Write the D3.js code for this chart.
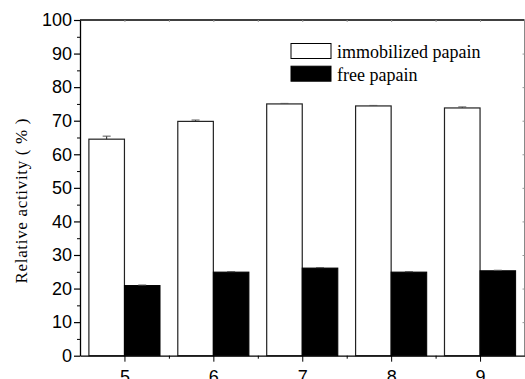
<!DOCTYPE html>
<html>
<head>
<meta charset="utf-8">
<script src="https://cdn.jsdelivr.net/npm/d3@7"></script>
<style>
  html, body { margin: 0; padding: 0; background: #fff; }
  svg { display: block; }
</style>
</head>
<body>
<svg id="chart" width="525" height="379"></svg>
<script>
// pH values on the x axis
const categories = [5, 6, 7, 8, 9];
// Relative activity (%) with error estimates
const immobilized = [64.5, 69.8, 75.0, 74.4, 73.8];
const immobilizedErr = [0.9, 0.4, 0.15, 0.15, 0.3];
const free = [20.9, 24.9, 26.1, 24.9, 25.3];
const freeErr = [0.15, 0.15, 0.15, 0.15, 0.15];
const yTicks = [0, 10, 20, 30, 40, 50, 60, 70, 80, 90, 100];
const seriesNames = ["immobilized papain", "free papain"];

const SERIF = "'Liberation Serif', 'Times New Roman', Tinos, serif";
const SANS = "'Liberation Sans', Arial, Arimo, sans-serif";

(function draw() {
  const svg = d3.select("#chart");
  const mLeft = 80, mRight = 524.5, mTop = 20, mBottom = 355.7;

  const x = d3.scaleLinear().domain([4.5, 9.5]).range([mLeft, mRight]);
  const y = d3.scaleLinear().domain([0, 100]).range([mBottom, mTop]);
  const bw = x(5.4) - x(5);

  // Bars
  const g = svg.append("g");
  g.selectAll("rect.imm").data(categories).enter().append("rect")
    .attr("x", (d) => x(d) - bw)
    .attr("y", (d, i) => y(immobilized[i]))
    .attr("width", bw)
    .attr("height", (d, i) => y(0) - y(immobilized[i]))
    .attr("fill", "#fff").attr("stroke", "#222").attr("stroke-width", 1.2);

  g.selectAll("rect.free").data(categories).enter().append("rect")
    .attr("x", (d) => x(d))
    .attr("y", (d, i) => y(free[i]))
    .attr("width", bw)
    .attr("height", (d, i) => y(0) - y(free[i]))
    .attr("fill", "#000").attr("stroke", "#000").attr("stroke-width", 1);

  // Error bars (upper whiskers)
  function whiskers(vals, errs, dx) {
    categories.forEach((c, i) => {
      const cx = x(c) + dx;
      g.append("line").attr("x1", cx).attr("x2", cx)
        .attr("y1", y(vals[i])).attr("y2", y(vals[i] + errs[i]))
        .attr("stroke", "#222").attr("stroke-width", 1);
      g.append("line").attr("x1", cx - 4).attr("x2", cx + 4)
        .attr("y1", y(vals[i] + errs[i])).attr("y2", y(vals[i] + errs[i]))
        .attr("stroke", "#555").attr("stroke-width", 1);
    });
  }
  whiskers(immobilized, immobilizedErr, -bw / 2);
  whiskers(free, freeErr, bw / 2);

  // Frame
  svg.append("line").attr("x1", mLeft).attr("x2", mRight).attr("y1", mTop).attr("y2", mTop)
    .attr("stroke", "#000").attr("stroke-width", 1.3);
  svg.append("line").attr("x1", mRight).attr("x2", mRight).attr("y1", mTop).attr("y2", mBottom)
    .attr("stroke", "#888").attr("stroke-width", 1);

  // Left axis
  const yMinor = d3.range(5, 100, 10);
  const yAxis = d3.axisLeft(y).tickValues(yTicks).tickSize(6).tickSizeOuter(0).tickPadding(2);
  const ya = svg.append("g").attr("transform", `translate(${mLeft},0)`).call(yAxis);
  ya.attr("font-family", null).attr("font-size", null);
  ya.select(".domain").attr("stroke-width", 1.3);
  ya.selectAll(".tick line").attr("stroke-width", 1.2);
  ya.selectAll(".tick text").style("font-family", SANS)
    .style("font-size", "18px").attr("fill", "#000");
  svg.append("g").attr("transform", `translate(${mLeft},0)`)
    .call(d3.axisLeft(y).tickValues(yMinor).tickSize(3).tickFormat(""))
    .call((s) => s.select(".domain").remove());

  // Bottom axis
  const xa = svg.append("g").attr("transform", `translate(0,${mBottom})`)
    .call(d3.axisBottom(x).tickValues(categories).tickSize(6).tickSizeOuter(0).tickPadding(9).tickFormat(d3.format("d")));
  xa.attr("font-family", null).attr("font-size", null);
  xa.select(".domain").attr("stroke-width", 1.3);
  xa.selectAll(".tick text").style("font-family", SANS)
    .style("font-size", "18px").attr("fill", "#000");
  svg.append("g").attr("transform", `translate(0,${mBottom})`)
    .call(d3.axisBottom(x).tickValues([5.5, 6.5, 7.5, 8.5]).tickSize(3).tickFormat(""))
    .call((s) => s.select(".domain").remove());

  // Small inward ticks on the top and right borders
  svg.append("g").attr("transform", `translate(0,${mTop})`)
    .call(d3.axisBottom(x).tickValues([5, 5.5, 6, 6.5, 7, 7.5, 8, 8.5, 9]).tickSize(2).tickFormat(""))
    .call((s) => s.select(".domain").remove())
    .selectAll("line").attr("stroke", "#999");
  svg.append("g").attr("transform", `translate(${mRight},0)`)
    .call(d3.axisLeft(y).tickValues(d3.range(10, 100, 10)).tickSize(2).tickFormat(""))
    .call((s) => s.select(".domain").remove())
    .selectAll("line").attr("stroke", "#999");

  // Y axis title
  svg.append("text")
    .style("font-family", SERIF).style("font-size", "17px")
    .attr("transform", "translate(27,201) rotate(-90)")
    .attr("text-anchor", "middle")
    .attr("textLength", 165).attr("lengthAdjust", "spacing")
    .attr("fill", "#000")
    .text("Relative activity ( % )");

  // Legend
  const legend = svg.append("g");
  const fills = ["#fff", "#000"];
  seriesNames.forEach((name, i) => {
    const ly = 43.5 + i * 22.7;
    legend.append("rect").attr("x", 291).attr("y", ly).attr("width", 40).attr("height", 15)
      .attr("fill", fills[i]).attr("stroke", "#000").attr("stroke-width", 1);
    legend.append("text").style("font-family", SERIF).style("font-size", "18px")
      .attr("x", 337).attr("y", ly + 14.5)
      .attr("fill", "#000").text(name);
  });
})();
</script>
</body>
</html>
